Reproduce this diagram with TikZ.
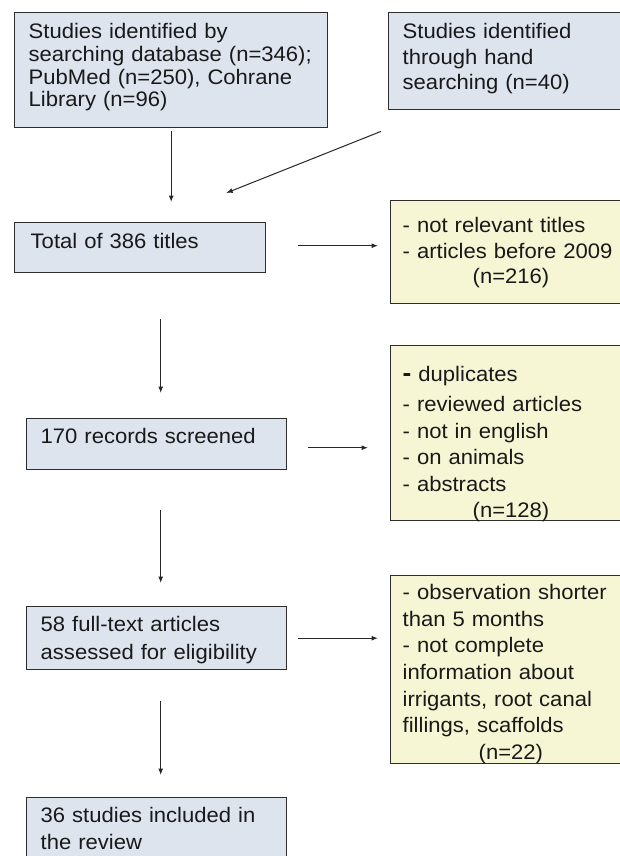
\documentclass[tikz,border=0pt]{standalone}
\usepackage{fontspec}
\setmainfont{Liberation Sans}[FakeStretch=1.05]
\usetikzlibrary{arrows.meta}

\definecolor{boxblue}{RGB}{221,228,238}
\definecolor{boxyellow}{RGB}{246,246,212}
\definecolor{boxline}{RGB}{45,45,45}
\newcommand{\boxfont}[1]{\fontsize{21pt}{#1}\selectfont}

\tikzset{
  studybox/.style={draw=boxline, line width=1.4pt, fill=boxblue, anchor=north west,
    align=left, inner ysep=0pt, inner xsep=14pt, text=black!90},
  exclbox/.style={studybox, fill=boxyellow, inner xsep=12pt},
  arr/.style={-{Latex[length=6.5pt,width=5pt]}, line width=1pt, draw=black!85},
}

\begin{document}
\begin{tikzpicture}[x=1pt,y=-1pt]
\useasboundingbox (0,0) rectangle (620,856);

% identification
\node[studybox, text width=285pt, text height=26pt, text depth=89pt, font=\boxfont{22.7pt}] (db) at (14,12)
  {Studies identified by\\searching database (n=346);\\PubMed (n=250), Cohrane\\Library (n=96)};
\node[studybox, text width=214pt, text height=26pt, text depth=71pt, font=\boxfont{25.5pt}] (hand) at (388,12)
  {Studies identified\\through hand\\searching (n=40)};

% main column
\node[studybox, inner xsep=16pt, text width=219pt, text height=26pt, text depth=24pt, font=\boxfont{22pt}] (total) at (14,222)
  {Total of 386 titles};
\node[studybox, text width=232pt, text height=25pt, text depth=26pt, font=\boxfont{22pt}] (rec) at (26,418)
  {170 records screened};
\node[studybox, text width=232pt, text height=25pt, text depth=38pt, font=\boxfont{28pt}] (full) at (26,606)
  {58 full-text articles\\assessed for eligibility};
\node[studybox, text width=232pt, text height=25pt, text depth=60pt, font=\boxfont{27pt}] (incl) at (26,797)
  {36 studies included in\\the review};

% exclusions
\node[exclbox, text width=216pt, text height=32pt, text depth=71pt, font=\boxfont{25.5pt}] (excl1) at (390,200)
  {- not relevant titles\\- articles before 2009\\\hspace*{70pt}(n=216)};
\node[exclbox, text width=216pt, text height=36pt, text depth=139pt, font=\boxfont{26.5pt}] (excl2) at (390,345)
  {{\fontsize{25pt}{26.5pt}\selectfont\bfseries -} duplicates\\[3.5pt]- reviewed articles\\- not in english\\- on animals\\- abstracts\\\hspace*{70pt}(n=128)};
\node[exclbox, text width=216pt, text height=24pt, text depth=164pt, font=\boxfont{26.6pt}] (excl3) at (390,575)
  {- observation shorter\\than 5 months\\- not complete\\information about\\irrigants, root canal\\fillings, scaffolds\\\hspace*{76pt}(n=22)};

% connectors
\draw[arr] ([yshift=-3pt]db.south) -- ([yshift=20pt]db.south |- total.north);
\draw[arr] ([shift={(-7pt,-21pt)}]hand.south west) -- ([shift={(86pt,29pt)}]total.north);
\draw[arr] ([shift={(32pt,2pt)}]total.east) -- ([shift={(-12pt,2pt)}]total.east -| excl1.west);
\draw[arr] ([shift={(4pt,99pt)}]rec.north) -- ([shift={(4pt,25pt)}]rec.north);
\draw[arr] ([shift={(21pt,-3.5pt)}]rec.east) -- ([shift={(-22pt,-3.5pt)}]rec.east -| excl2.west);
\draw[arr] ([shift={(4pt,96pt)}]full.north) -- ([shift={(4pt,23pt)}]full.north);
\draw[arr] ([xshift=11pt]full.east) -- ([xshift=-12pt]full.east -| excl3.west);
\draw[arr] ([shift={(4pt,96pt)}]incl.north) -- ([shift={(4pt,22pt)}]incl.north);
\end{tikzpicture}
\end{document}
